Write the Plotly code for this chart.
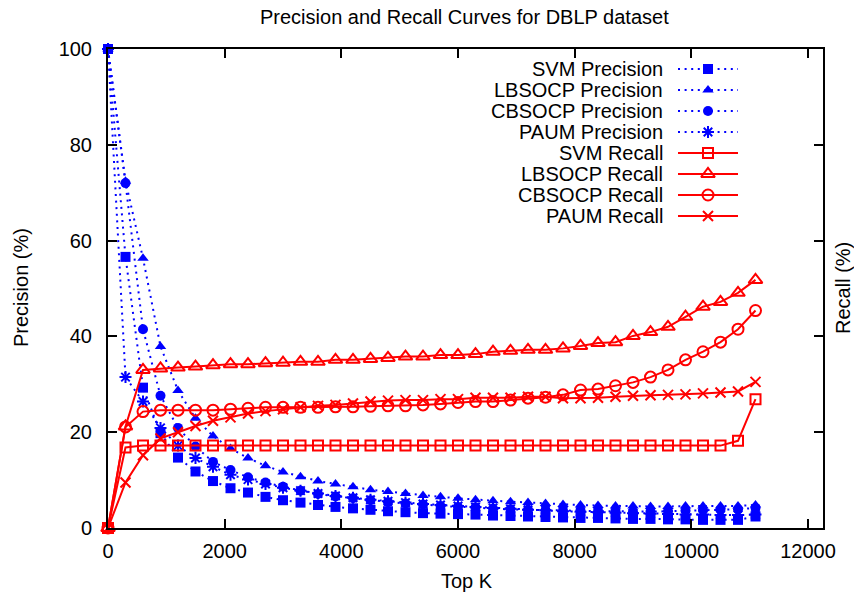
import plotly.graph_objects as go

# ---------------- data ----------------
top_k = [0, 300, 600, 900, 1200, 1500, 1800, 2100, 2400, 2700,
         3000, 3300, 3600, 3900, 4200, 4500, 4800, 5100, 5400, 5700,
         6000, 6300, 6600, 6900, 7200, 7500, 7800, 8100, 8400, 8700,
         9000, 9300, 9600, 9900, 10200, 10500, 10800, 11100]

svm_precision = [100, 56.6, 29.3, 19.8, 14.7, 11.8, 9.8, 8.3, 7.4, 6.5,
                 5.8, 5.3, 4.8, 4.4, 4.1, 3.8, 3.5, 3.3, 3.1, 3.0,
                 2.9, 2.8, 2.6, 2.5, 2.4, 2.3, 2.2, 2.1, 2.1, 2.0,
                 1.9, 1.9, 1.8, 1.8, 1.7, 1.7, 1.7, 2.4]
lbsocp_precision = [100, 72.4, 56.3, 37.9, 28.7, 22.9, 19.2, 16.6, 14.6, 13.0,
                    11.7, 10.7, 9.8, 9.2, 8.6, 8.0, 7.6, 7.2, 6.8, 6.5,
                    6.2, 5.9, 5.7, 5.5, 5.3, 5.1, 4.9, 4.8, 4.7, 4.6,
                    4.6, 4.5, 4.5, 4.6, 4.6, 4.6, 4.6, 4.8]
cbsocp_precision = [100, 72.0, 41.5, 27.6, 20.9, 17.0, 13.8, 12.1, 10.6, 9.5,
                    8.6, 7.8, 7.1, 6.6, 6.2, 5.8, 5.4, 5.1, 4.9, 4.6,
                    4.4, 4.3, 4.0, 3.9, 3.8, 3.7, 3.6, 3.6, 3.5, 3.5,
                    3.4, 3.4, 3.5, 3.6, 3.7, 3.8, 3.9, 4.2]
paum_precision = [100, 31.5, 26.4, 20.9, 17.2, 14.6, 12.8, 11.1, 10.1, 9.2,
                  8.4, 7.8, 7.2, 6.7, 6.3, 5.9, 5.6, 5.3, 5.0, 4.8,
                  4.6, 4.4, 4.2, 4.0, 3.8, 3.7, 3.5, 3.4, 3.3, 3.2,
                  3.1, 3.0, 2.9, 2.8, 2.8, 2.7, 2.7, 2.8]

svm_recall = [0, 16.8, 17.2, 17.2, 17.2, 17.2, 17.2, 17.2, 17.2, 17.2,
              17.2, 17.2, 17.2, 17.2, 17.2, 17.2, 17.2, 17.2, 17.2, 17.2,
              17.2, 17.2, 17.2, 17.2, 17.2, 17.2, 17.2, 17.2, 17.2, 17.2,
              17.2, 17.2, 17.2, 17.2, 17.2, 17.2, 18.2, 26.9]
lbsocp_recall = [0, 21.2, 33.0, 33.3, 33.5, 33.7, 34.0, 34.2, 34.2, 34.4,
                 34.5, 34.7, 34.7, 35.1, 35.1, 35.3, 35.5, 35.8, 35.8, 36.1,
                 36.1, 36.3, 36.8, 37.0, 37.2, 37.2, 37.5, 38.0, 38.6, 38.8,
                 40.1, 40.9, 42.0, 44.1, 46.2, 47.2, 49.1, 51.8]
cbsocp_recall = [0, 21.1, 24.3, 24.6, 24.6, 24.6, 24.6, 24.8, 25.0, 25.2,
                 25.2, 25.2, 25.2, 25.3, 25.3, 25.4, 25.5, 25.5, 25.7, 25.9,
                 26.2, 26.4, 26.4, 26.7, 27.1, 27.3, 27.8, 28.8, 29.0, 29.7,
                 30.4, 31.5, 33.0, 35.1, 36.8, 38.8, 41.5, 45.4]
paum_recall = [0, 9.5, 15.2, 18.7, 20.0, 21.3, 22.4, 23.1, 23.9, 24.4,
               24.8, 25.2, 25.5, 25.7, 26.0, 26.4, 26.6, 26.7, 26.7, 26.9,
               26.9, 27.2, 27.2, 27.2, 27.4, 27.4, 27.1, 27.1, 27.2, 27.4,
               27.6, 27.7, 27.8, 27.9, 28.1, 28.3, 28.5, 30.5]

x_ticks = [0, 2000, 4000, 6000, 8000, 10000, 12000]
y_ticks = [0, 20, 40, 60, 80, 100]

# ---------------- styles ----------------
BLUE = "#0000ff"
RED = "#ff0000"
FONT = "Liberation Sans, Arial, sans-serif"
FS = 20
DOT = "2px,4.6px"

series = [
    ("SVM Precision", svm_precision, BLUE, "square", DOT, 10, 0),
    ("LBSOCP Precision", lbsocp_precision, BLUE, "triangle-up", DOT, 10, 0),
    ("CBSOCP Precision", cbsocp_precision, BLUE, "circle", DOT, 10, 0),
    ("PAUM Precision", paum_precision, BLUE, "asterisk-open", DOT, 10, 2),
    ("SVM Recall", svm_recall, RED, "square-open", "solid", 10, 2),
    ("LBSOCP Recall", lbsocp_recall, RED, "triangle-up-open", "solid", 12, 2),
    ("CBSOCP Recall", cbsocp_recall, RED, "circle-open", "solid", 11, 2),
    ("PAUM Recall", paum_recall, RED, "x-thin-open", "solid", 10, 2),
]

fig = go.Figure()
for name, vals, col, sym, dash, msize, mlw in series:
    fig.add_trace(go.Scatter(
        x=top_k, y=vals, name=name, mode="lines+markers",
        line=dict(color=col, width=2, dash=dash),
        marker=dict(symbol=sym, size=msize, color=col,
                    line=dict(color=col, width=mlw)),
        cliponaxis=False, showlegend=False,
    ))

# ---------------- manual gnuplot-style key ----------------
W, H = 854, 592
L, R, T, B = 108, 31, 49, 64
pw, ph = W - L - R, H - T - B

def px_x(p):
    return (p - L) / pw

def px_y(p):
    return (H - B - p) / ph

key_text_right = 665
key_line = (678, 738)
key_row0, key_dy = 69, 21

shapes = []
annotations = []
for i, (name, vals, col, sym, dash, msize, mlw) in enumerate(series):
    yy = px_y(key_row0 + i * key_dy)
    annotations.append(dict(text=name, x=px_x(key_text_right), y=yy,
                            xref="paper", yref="paper", xanchor="right",
                            yanchor="middle", showarrow=False,
                            font=dict(family=FONT, size=FS, color="black")))
    shapes.append(dict(type="line", xref="paper", yref="paper",
                       x0=px_x(key_line[0]), x1=px_x(key_line[1]), y0=yy, y1=yy,
                       line=dict(color=col, width=2,
                                 dash=None if dash == "solid" else dash)))
    fig.add_trace(go.Scatter(
        x=[px_x((key_line[0] + key_line[1]) / 2)], y=[yy],
        xaxis="x2", yaxis="y2", mode="markers",
        marker=dict(symbol=sym, size=msize, color=col,
                    line=dict(color=col, width=mlw)),
        cliponaxis=False, showlegend=False, hoverinfo="skip",
    ))

annotations += [
    dict(text="Precision and Recall Curves for DBLP dataset", x=px_x(464), y=px_y(17),
         xref="paper", yref="paper", xanchor="center", yanchor="middle",
         showarrow=False, font=dict(family=FONT, size=FS, color="black")),
    dict(text="Top K", x=px_x(467), y=px_y(581),
         xref="paper", yref="paper", xanchor="center", yanchor="middle",
         showarrow=False, font=dict(family=FONT, size=FS, color="black")),
    dict(text="Precision (%)", x=px_x(21), y=px_y(288), textangle=-90,
         xref="paper", yref="paper", xanchor="center", yanchor="middle",
         showarrow=False, font=dict(family=FONT, size=FS, color="black")),
    dict(text="Recall (%)", x=px_x(843), y=px_y(288), textangle=-90,
         xref="paper", yref="paper", xanchor="center", yanchor="middle",
         showarrow=False, font=dict(family=FONT, size=FS, color="black")),
]

axis_common = dict(showline=True, linecolor="black", linewidth=2, mirror="ticks",
                   ticks="inside", ticklen=9, tickwidth=1.5, tickcolor="black",
                   showgrid=False, zeroline=False,
                   tickfont=dict(family=FONT, size=FS, color="black"))

fig.update_layout(
    width=W, height=H, autosize=False,
    margin=dict(l=L, r=R, t=T, b=B, pad=0),
    paper_bgcolor="white", plot_bgcolor="white",
    xaxis=dict(range=[0, 12257], tickvals=x_ticks, ticktext=[str(v) for v in x_ticks],
               ticklabelstandoff=4, automargin=False, **axis_common),
    yaxis=dict(range=[0, 100], tickvals=y_ticks, ticktext=[str(v) for v in y_ticks],
               ticklabelstandoff=10, automargin=False, **axis_common),
    xaxis2=dict(overlaying="x", anchor="y2", range=[0, 1], visible=False),
    yaxis2=dict(overlaying="y", anchor="x2", range=[0, 1], visible=False),
    shapes=shapes, annotations=annotations, showlegend=False,
)

fig.write_html("out.html")
